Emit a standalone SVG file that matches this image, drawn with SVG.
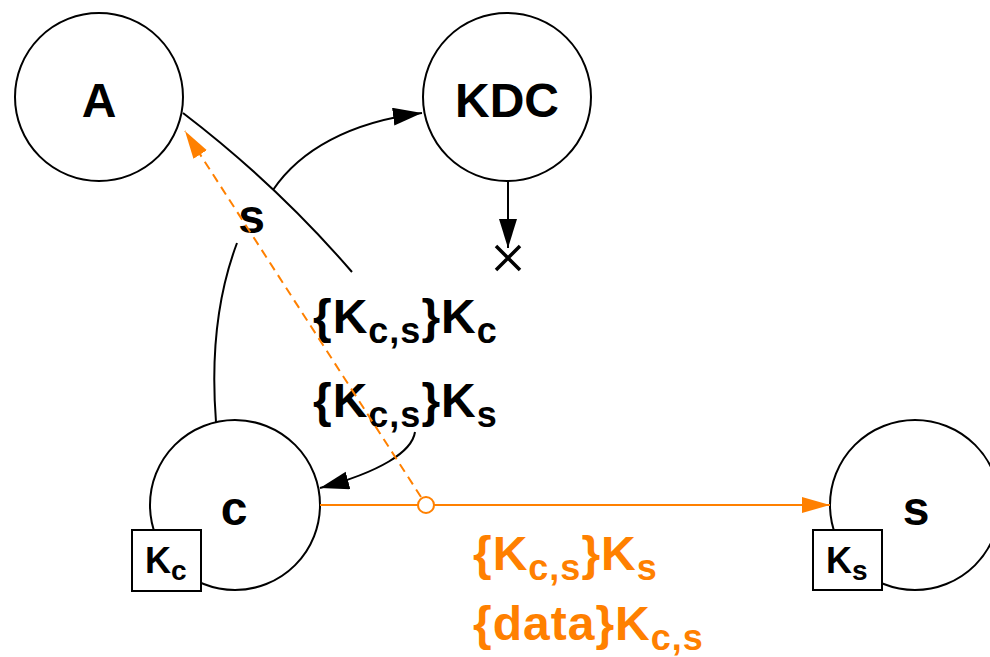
<svg xmlns="http://www.w3.org/2000/svg" width="990" height="657" viewBox="0 0 990 657">
  <style>
    .node { fill: #ffffff; stroke: #000000; stroke-width: 2; }
    .key { fill: #ffffff; stroke: #000000; stroke-width: 2; }
    .name { font-family: "Liberation Sans", Arial, sans-serif; font-weight: bold; font-size: 48px; text-anchor: middle; fill: #000000; }
    .msg { font-family: "Liberation Sans", Arial, sans-serif; font-weight: bold; font-size: 48px; letter-spacing: 1px; fill: #000000; }
    .msg.orange { fill: #ff8000; }
    .keytxt { font-family: "Liberation Sans", Arial, sans-serif; font-weight: bold; font-size: 36px; fill: #000000; }
    .sub { font-size: 36px; }
    .ksub { font-size: 28px; }
    .wire { fill: none; stroke: #000000; stroke-width: 2; }
    .flow { fill: none; stroke: #ff8000; stroke-width: 2; }
    .dash { stroke-dasharray: 9 6; }
  </style>
  <defs>
    <marker id="head" markerUnits="userSpaceOnUse" markerWidth="32" markerHeight="20" refX="29" refY="9" orient="auto">
      <path d="M0,0 L29,9 L0,18 Z" fill="#000000"/>
    </marker>
    <marker id="head-orange" markerUnits="userSpaceOnUse" markerWidth="30" markerHeight="18" refX="28" refY="8" orient="auto">
      <path d="M0,0 L28,8 L0,16 Z" fill="#ff8000"/>
    </marker>
  </defs>

  <!-- principals -->
  <g id="node-A">
    <circle class="node" cx="99" cy="97" r="84"/>
    <text class="name" x="99" y="117">A</text>
  </g>
  <g id="node-KDC">
    <circle class="node" cx="507" cy="97" r="84"/>
    <text class="name" x="507" y="117">KDC</text>
  </g>
  <g id="node-c">
    <circle class="node" cx="235" cy="505" r="85"/>
    <text class="name" x="234" y="525">c</text>
    <rect class="key" x="132" y="530" width="69" height="61"/>
    <text class="keytxt" x="145" y="573">K<tspan class="ksub" dy="7">c</tspan></text>
  </g>
  <g id="node-s">
    <circle class="node" cx="915" cy="505" r="85"/>
    <text class="name" x="916" y="525">s</text>
    <rect class="key" x="813" y="530" width="69" height="60"/>
    <text class="keytxt" x="826" y="573">K<tspan class="ksub" dy="7">s</tspan></text>
  </g>

  <!-- messages -->
  <g id="connectors">
    <!-- c asks the KDC -->
    <path class="wire" d="M216,422 Q208,320 237,243"/>
    <path class="wire" d="M273,190 C300,150 350,122 422,113" marker-end="url(#head)"/>
    <text class="msg" x="252" y="233" font-size="36" text-anchor="middle" letter-spacing="0">s</text>

    <!-- KDC reply -->
    <path class="wire" d="M183,113 Q276,184 352,272"/>
    <path class="wire" d="M415,432 C412,452 380,472 320,488" marker-end="url(#head)"/>
    <text class="msg" x="313" y="333">{K<tspan class="sub" dy="10">c,s</tspan><tspan dy="-10">}K</tspan><tspan class="sub" dy="10">c</tspan></text>
    <text class="msg" x="313" y="417">{K<tspan class="sub" dy="10">c,s</tspan><tspan dy="-10">}K</tspan><tspan class="sub" dy="10">s</tspan></text>

    <!-- blocked direct reply -->
    <line class="wire" x1="508" y1="181" x2="508" y2="248" marker-end="url(#head)"/>
    <path d="M496,246 L520,270 M520,246 L496,270" stroke="#000000" stroke-width="3.5" fill="none"/>

    <!-- c to s, with copy sent back to A -->
    <line class="flow" x1="320" y1="505" x2="830" y2="505" marker-end="url(#head-orange)"/>
    <line class="flow dash" x1="421" y1="497" x2="185" y2="131" marker-end="url(#head-orange)"/>
    <circle cx="426" cy="505" r="8" fill="#ffffff" stroke="#ff8000" stroke-width="2"/>
    <text class="msg orange" x="473" y="570">{K<tspan class="sub" dy="10">c,s</tspan><tspan dy="-10">}K</tspan><tspan class="sub" dy="10">s</tspan></text>
    <text class="msg orange" x="473" y="640">{data}K<tspan class="sub" dy="10">c,s</tspan></text>
  </g>
</svg>
